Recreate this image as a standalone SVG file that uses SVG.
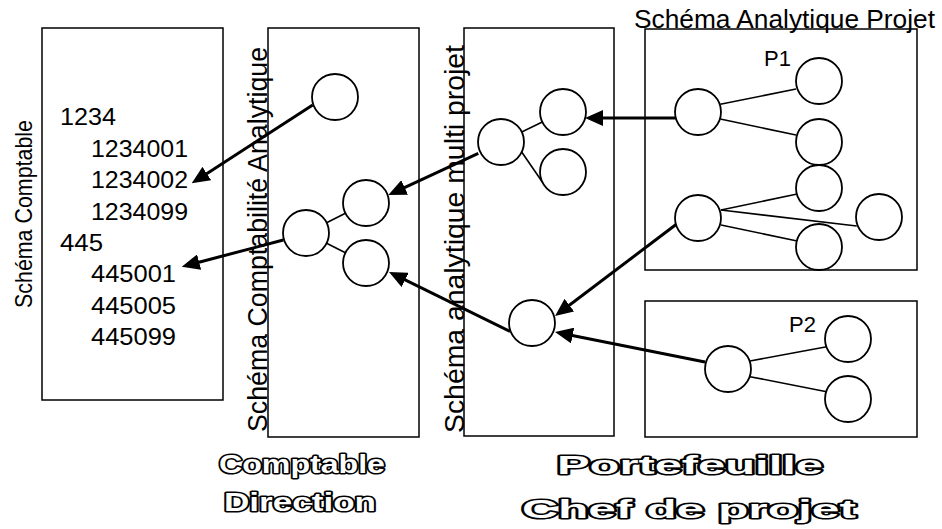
<svg xmlns="http://www.w3.org/2000/svg" xmlns:xlink="http://www.w3.org/1999/xlink" width="942" height="529" viewBox="0 0 942 529">
  <style>
    .panel { fill: none; stroke: #000; stroke-width: 1.5; }
    .node { fill: #fff; stroke: #000; stroke-width: 1.8; }
    .label { font-family: "Liberation Sans", Arial, sans-serif; fill: #000; }
    .link { stroke: #000; stroke-width: 1.6; fill: none; }
    .flow { stroke: #000; stroke-width: 3; fill: none; marker-end: url(#head); }
    .title { font-family: "Liberation Sans", Arial, sans-serif; font-weight: bold; font-size: 25px;
             text-anchor: middle; stroke-linejoin: round; }
    .title-ink { fill: #000; stroke: #000; stroke-width: 3; }
    .title-hollow { fill: #fff; stroke: none; }
  </style>
  <defs>
    <marker id="head" markerUnits="userSpaceOnUse" markerWidth="18" markerHeight="16"
            refX="8" refY="8" orient="auto">
      <path d="M0,0 L18,8 L0,16 Z" fill="#000"/>
    </marker>
    <!-- hollow caption texts, drawn twice: dark outline then white core -->
    <text id="t-comptable" class="title" x="302" y="473" textLength="166" lengthAdjust="spacingAndGlyphs">Comptable</text>
    <text id="t-direction" class="title" x="300" y="511" textLength="152" lengthAdjust="spacingAndGlyphs">Direction</text>
    <text id="t-portefeuille" class="title" x="690" y="474" textLength="266" lengthAdjust="spacingAndGlyphs">Portefeuille</text>
    <text id="t-chef" class="title" x="689" y="518" textLength="334" lengthAdjust="spacingAndGlyphs">Chef de projet</text>
  </defs>

  <rect width="942" height="529" fill="#fff"/>

  <!-- Panel: accounting chart -->
  <g id="panel-comptable">
    <rect class="panel" x="42" y="28" width="181" height="372"/>
    <text class="label" font-size="24" textLength="188" lengthAdjust="spacingAndGlyphs"
          transform="translate(32,308) rotate(-90)">Schéma Comptable</text>
    <g class="label" font-size="23">
      <text x="60" y="125" textLength="56" lengthAdjust="spacingAndGlyphs">1234</text>
      <text x="91" y="156.5" textLength="97" lengthAdjust="spacingAndGlyphs">1234001</text>
      <text x="91" y="188" textLength="97" lengthAdjust="spacingAndGlyphs">1234002</text>
      <text x="91" y="219.5" textLength="97" lengthAdjust="spacingAndGlyphs">1234099</text>
      <text x="60" y="250.5" textLength="43" lengthAdjust="spacingAndGlyphs">445</text>
      <text x="91" y="282" textLength="85" lengthAdjust="spacingAndGlyphs">445001</text>
      <text x="91" y="313.5" textLength="85" lengthAdjust="spacingAndGlyphs">445005</text>
      <text x="91" y="345" textLength="85" lengthAdjust="spacingAndGlyphs">445099</text>
    </g>
  </g>

  <!-- Panel: analytical accounting chart -->
  <g id="panel-analytique">
    <rect class="panel" x="268" y="28" width="151" height="409"/>
    <text class="label" font-size="27" textLength="385" lengthAdjust="spacingAndGlyphs"
          transform="translate(267,432) rotate(-90)">Schéma Comptabilité Analytique</text>
  </g>

  <!-- Panel: multi-project chart -->
  <g id="panel-multi">
    <rect class="panel" x="464" y="28" width="150" height="408"/>
    <text class="label" font-size="27" textLength="388" lengthAdjust="spacingAndGlyphs"
          transform="translate(464,433) rotate(-90)">Schéma analytique multi projet</text>
  </g>

  <!-- Panel: project P1 -->
  <g id="panel-p1">
    <rect class="panel" x="645" y="29" width="272" height="241"/>
    <text class="label" x="634" y="28" font-size="25" textLength="301" lengthAdjust="spacingAndGlyphs">Schéma Analytique Projet</text>
    <text class="label" x="764" y="66" font-size="22">P1</text>
  </g>

  <!-- Panel: project P2 -->
  <g id="panel-p2">
    <rect class="panel" x="645" y="301" width="272" height="136"/>
    <text class="label" x="789" y="332" font-size="22">P2</text>
  </g>

  <!-- Connectors -->
  <g id="connectors">
    <!-- tree branches -->
    <line class="link" x1="326.6" y1="222.7" x2="345.4" y2="213.3"/>
    <line class="link" x1="326.6" y1="243.3" x2="345.4" y2="252.7"/>
    <line class="link" x1="521.7" y1="132" x2="542.3" y2="122"/>
    <line class="link" x1="521.7" y1="152" x2="542.3" y2="182"/>
    <line class="link" x1="720.3" y1="104.3" x2="796" y2="89"/>
    <line class="link" x1="720.3" y1="119" x2="796" y2="135"/>
    <line class="link" x1="721" y1="210" x2="796" y2="194.3"/>
    <line class="link" x1="721" y1="210" x2="856.7" y2="226"/>
    <line class="link" x1="721" y1="225" x2="796" y2="240.7"/>
    <line class="link" x1="750" y1="361" x2="826.7" y2="346.7"/>
    <line class="link" x1="750" y1="376.7" x2="826.7" y2="391.7"/>
    <!-- mapping arrows -->
    <line class="flow" x1="676" y1="118" x2="595" y2="118"/>
    <line class="flow" x1="676.7" y1="224" x2="563" y2="310"/>
    <line class="flow" x1="705" y1="362" x2="564.8" y2="334"/>
    <line class="flow" x1="478.3" y1="153.3" x2="397.4" y2="190.8"/>
    <line class="flow" x1="510" y1="331.5" x2="398" y2="276.4"/>
    <line class="flow" x1="312.7" y1="105" x2="200.1" y2="177.9"/>
    <line class="flow" x1="283.3" y1="240" x2="191.4" y2="264.2"/>
  </g>

  <!-- Nodes -->
  <g id="node-ca-top"><circle class="node" cx="335" cy="97" r="23"/></g>
  <g id="node-ca-root"><circle class="node" cx="306" cy="233" r="23"/></g>
  <g id="node-ca-a"><circle class="node" cx="366" cy="203" r="23"/></g>
  <g id="node-ca-b"><circle class="node" cx="366" cy="263" r="23"/></g>

  <g id="node-mp-root"><circle class="node" cx="501" cy="142" r="23"/></g>
  <g id="node-mp-a"><circle class="node" cx="563" cy="112" r="23"/></g>
  <g id="node-mp-b"><circle class="node" cx="563" cy="172" r="23"/></g>
  <g id="node-mp-c"><circle class="node" cx="532" cy="323" r="23"/></g>

  <g id="node-p1-root1"><circle class="node" cx="698" cy="112" r="23"/></g>
  <g id="node-p1-a"><circle class="node" cx="819" cy="81" r="23"/></g>
  <g id="node-p1-b"><circle class="node" cx="819" cy="142" r="23"/></g>
  <g id="node-p1-c"><circle class="node" cx="819" cy="188" r="23"/></g>
  <g id="node-p1-root2"><circle class="node" cx="698" cy="218" r="23"/></g>
  <g id="node-p1-d"><circle class="node" cx="879" cy="217" r="23"/></g>
  <g id="node-p1-e"><circle class="node" cx="819" cy="247" r="23"/></g>

  <g id="node-p2-root"><circle class="node" cx="728" cy="369" r="23"/></g>
  <g id="node-p2-a"><circle class="node" cx="848" cy="339" r="23"/></g>
  <g id="node-p2-b"><circle class="node" cx="848" cy="399" r="23"/></g>

  <!-- Captions -->
  <g id="caption-direction">
    <use xlink:href="#t-comptable" class="title-ink"/>
    <use xlink:href="#t-direction" class="title-ink"/>
    <use xlink:href="#t-comptable" class="title-hollow"/>
    <use xlink:href="#t-direction" class="title-hollow"/>
  </g>
  <g id="caption-projet">
    <use xlink:href="#t-portefeuille" class="title-ink"/>
    <use xlink:href="#t-chef" class="title-ink"/>
    <use xlink:href="#t-portefeuille" class="title-hollow"/>
    <use xlink:href="#t-chef" class="title-hollow"/>
  </g>
</svg>
